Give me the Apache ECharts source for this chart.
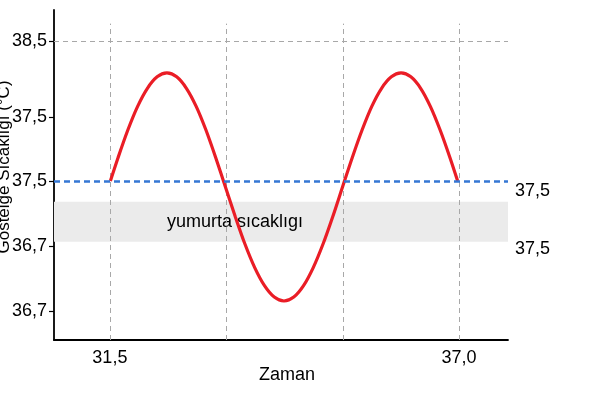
<!DOCTYPE html>
<html>
<head>
<meta charset="utf-8">
<script src="https://cdn.jsdelivr.net/npm/echarts@6/dist/echarts.min.js"></script>
<style>html,body{margin:0;padding:0;background:#fff}#c{width:600px;height:400px}</style>
</head>
<body>
<div id="c"></div>
<script>
// Data
const timeValues = [31.508, 31.630, 31.783, 31.937, 32.091, 32.244, 32.398, 32.552, 32.705, 32.859, 33.013, 33.166, 33.320, 33.474, 33.627, 33.781, 33.935, 34.089, 34.242, 34.396, 34.550, 34.703, 34.857, 35.011, 35.164, 35.318, 35.472, 35.625, 35.779, 35.933, 36.086, 36.240, 36.394, 36.547, 36.701, 36.855, 36.977];
const tempValues = [37.500, 37.681, 37.892, 38.074, 38.213, 38.301, 38.331, 38.301, 38.213, 38.074, 37.892, 37.681, 37.454, 37.227, 37.015, 36.834, 36.695, 36.607, 36.577, 36.607, 36.695, 36.834, 37.015, 37.227, 37.454, 37.681, 37.892, 38.074, 38.213, 38.301, 38.331, 38.301, 38.213, 38.074, 37.892, 37.681, 37.500];
const xTickValues = [31.5, 37.0];
const xTickLabels = ['31,5', '37,0'];
const xGridValues = [31.5, 33.33, 35.17, 37.0];
const yTickValues = [36.5, 37.0, 37.5, 37.992, 38.577];
const yTickLabels = ['36,7', '36,7', '37,5', '37,5', '38,5'];
const thresholdValue = 37.5;
const thresholdLabel = '37,5';
const bandRange = [37.033, 37.341];
const bandName = 'yumurta sıcaklıgı';
const bandLabel = '37,5';
const yTopGrid = 38.577;

const xMin = 30.62, xMax = 37.77, yMin = 36.277, yMax = 38.815, gridTop = 38.71;
const font = 'Liberation Sans, Arial, Helvetica, sans-serif';
const fs = 18;

const chart = echarts.init(document.getElementById('c'), null, {renderer: 'canvas'});
const gridDash = {color: '#a8a8a8', width: 1, type: [5, 4]};

const vLines = xGridValues.map(v => [{coord: [v, yMin], symbol: 'none'}, {coord: [v, gridTop], symbol: 'none'}]);

chart.setOption({
  animation: false,
  backgroundColor: '#fff',
  grid: {left: 54, right: 92, top: 10, bottom: 60, containLabel: false, outerBoundsMode: 'none'},
  xAxis: {
    type: 'value', min: xMin, max: xMax,
    name: 'Zaman', nameLocation: 'middle', nameGap: 26, nameMoveOverlap: false,
    nameTextStyle: {color: '#000', fontSize: fs, fontFamily: font, padding: [0, 0, 0, 12]},
    axisLine: {show: true, onZero: false, lineStyle: {color: '#000', width: 1.8}},
    axisTick: {show: false},
    splitLine: {show: false},
    axisLabel: {
      customValues: xTickValues, margin: 9, color: '#000', fontSize: fs, fontFamily: font,
      formatter: v => { const i = xTickValues.findIndex(t => Math.abs(t - v) < 1e-6); return i >= 0 ? xTickLabels[i] : ''; }
    }
  },
  yAxis: {
    type: 'value', min: yMin, max: yMax,
    name: 'Göstelge Sıcaklığı (°C)', nameLocation: 'middle', nameGap: 41, nameRotate: 90, nameMoveOverlap: false,
    nameTextStyle: {color: '#000', fontSize: 17, fontFamily: font, padding: [0, 0, 0, 16]},
    axisLine: {show: true, onZero: false, lineStyle: {color: '#000', width: 1.8}},
    axisTick: {show: true, customValues: yTickValues, length: 5, lineStyle: {color: '#000', width: 1.2}},
    splitLine: {show: false},
    axisLabel: {
      customValues: yTickValues, margin: 7, color: '#000', fontSize: fs, fontFamily: font,
      formatter: v => { let bi = 0; yTickValues.forEach((t, i) => { if (Math.abs(t - v) < Math.abs(yTickValues[bi] - v)) bi = i; }); return yTickLabels[bi]; }
    }
  },
  series: [
    {
      type: 'line', name: 'grid', data: [], silent: true,
      markArea: {
        silent: true,
        itemStyle: {color: '#ebebeb'},
        label: {show: true, position: 'insideLeft', distance: 113, color: '#000', fontSize: fs, fontFamily: font},
        data: [[{yAxis: bandRange[0], name: bandName}, {yAxis: bandRange[1]}]]
      },
      markLine: {
        silent: true, symbol: 'none', animation: false,
        label: {show: false},
        lineStyle: gridDash,
        data: vLines.concat([[{coord: [xMin, yTopGrid], symbol: 'none'}, {coord: [xMax, yTopGrid], symbol: 'none'}]])
      }
    },
    {
      type: 'line', name: 'sicaklik', z: 5,
      data: timeValues.map((t, i) => [t, tempValues[i]]),
      smooth: 0.3, showSymbol: false,
      lineStyle: {color: '#ea1d26', width: 3.2},
      markLine: {
        silent: true, symbol: 'none', z: 6,
        data: [
          {yAxis: thresholdValue, lineStyle: {color: '#3577d4', width: 2.5, type: [6, 4]},
           label: {show: true, position: 'end', distance: 7, formatter: thresholdLabel, color: '#000', fontSize: fs, fontFamily: font, offset: [0, 10]}},
          {yAxis: bandRange[0], lineStyle: {color: 'rgba(0,0,0,0)', width: 0},
           label: {show: true, position: 'end', distance: 7, formatter: bandLabel, color: '#000', fontSize: fs, fontFamily: font, offset: [0, 7]}}
        ]
      }
    }
  ]
});
</script>
</body>
</html>
